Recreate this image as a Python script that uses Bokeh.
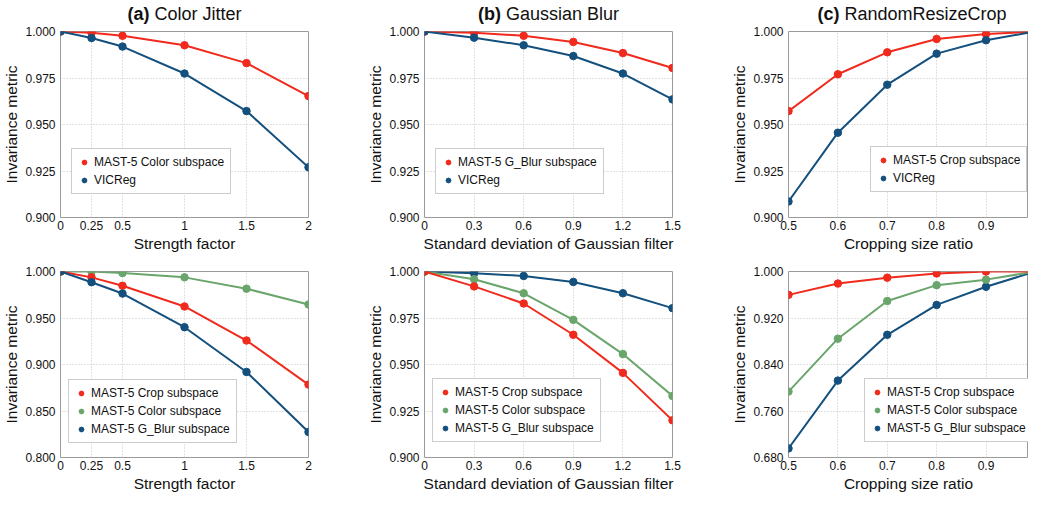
from bokeh.plotting import figure
from bokeh.layouts import column, row
from bokeh.models import FixedTicker, Legend, LegendItem, Label, Range1d
from bokeh.embed import file_html
from bokeh.resources import INLINE

# ---------------- data ----------------
titles_bold = ["(a)", "(b)", "(c)"]
titles_text = ["Color Jitter", "Gaussian Blur", "RandomResizeCrop"]
x_titles = ["Strength factor", "Standard deviation of Gaussian filter", "Cropping size ratio"]
y_title = "Invariance metric"

cj_x = [0, 0.25, 0.5, 1, 1.5, 2]
cj_x_labels = ["0", "0.25", "0.5", "1", "1.5", "2"]
gb_x = [0, 0.3, 0.6, 0.9, 1.2, 1.5]
gb_x_labels = ["0", "0.3", "0.6", "0.9", "1.2", "1.5"]
rc_x = [0.5, 0.6, 0.7, 0.8, 0.9, 1.0]
rc_x_ticks = [0.5, 0.6, 0.7, 0.8, 0.9]
rc_x_labels = ["0.5", "0.6", "0.7", "0.8", "0.9"]

y_ticks_top = [0.900, 0.925, 0.950, 0.975, 1.000]
y_labels_top = ["0.900", "0.925", "0.950", "0.975", "1.000"]
y_ticks_bl = [0.80, 0.85, 0.90, 0.95, 1.00]
y_labels_bl = ["0.800", "0.850", "0.900", "0.950", "1.000"]
y_ticks_br = [0.68, 0.76, 0.84, 0.92, 1.00]
y_labels_br = ["0.680", "0.760", "0.840", "0.920", "1.000"]

# top row
top_cj_mast_color = [1.0, 0.9993, 0.9977, 0.9926, 0.9830, 0.9653]
top_cj_vicreg = [1.0, 0.9965, 0.9919, 0.9774, 0.9572, 0.9270]
top_gb_mast_gblur = [1.0, 0.9993, 0.9977, 0.9944, 0.9884, 0.9804]
top_gb_vicreg = [1.0, 0.9967, 0.9926, 0.9868, 0.9774, 0.9635]
top_rc_mast_crop = [0.9572, 0.9770, 0.9888, 0.9960, 0.9986, 1.0]
top_rc_vicreg = [0.9086, 0.9456, 0.9714, 0.9881, 0.9953, 1.0]

# bottom row
bot_cj_crop = [1.0, 0.9937, 0.9847, 0.9624, 0.9258, 0.8784]
bot_cj_color = [1.0, 1.0, 0.9983, 0.9937, 0.9815, 0.9645]
bot_cj_gblur = [1.0, 0.9885, 0.9763, 0.9401, 0.8920, 0.8275]
bot_gb_crop = [1.0, 0.9920, 0.9828, 0.9660, 0.9455, 0.9200]
bot_gb_color = [1.0, 0.9958, 0.9883, 0.9740, 0.9556, 0.9331]
bot_gb_gblur = [1.0, 0.9991, 0.9976, 0.9944, 0.9883, 0.9803]
bot_rc_crop = [0.9598, 0.9793, 0.9894, 0.9966, 1.0, 1.0]
bot_rc_color = [0.7934, 0.8844, 0.9492, 0.9765, 0.9860, 1.0]
bot_rc_gblur = [0.6956, 0.8123, 0.8911, 0.9425, 0.9737, 1.0]

lab_mast_color = "MAST-5 Color subspace"
lab_mast_gblur = "MAST-5 G_Blur subspace"
lab_mast_crop = "MAST-5 Crop subspace"
lab_vicreg = "VICReg"

# ---------------- style ----------------
RED = "#f02a1c"
BLUE = "#14507e"
GREEN = "#6aa66c"
FONT = "Liberation Sans"
TXT = "#111111"

REG_W = {' ': 278, 'C': 722, 'o': 556, 'l': 222, 'r': 333, 'J': 500, 'i': 222, 't': 278,
         'e': 556, 'G': 778, 'a': 556, 'u': 556, 's': 500, 'n': 556, 'B': 667, 'R': 722,
         'd': 556, 'm': 833, 'z': 500, 'p': 556, 'c': 500}
BOLD_W = {'(': 333, ')': 333, 'a': 556, 'b': 611, 'c': 556}
TITLE_SIZE = 18

# layout (pixels)
TOTAL_W = 1028
L = 60          # left border of each panel
R = 56          # right border of first two panels
F12 = 248       # frame width of first two panels
F3 = TOTAL_W - 3 * L - 2 * R - 2 * F12   # frame width of last panel
RC_END = 0.986  # visible end of the cropping-ratio axis
TITLE_H = 24
TOP_B = 7
BOT_GAP = 17
BB = 37
FH = 186


def text_w(s, table, size):
    return sum(table.get(ch, 556) for ch in s) / 1000.0 * size


def make_fig(width, height, xr, yr, xticks, xlabels, yticks, ylabels, xtitle,
             border_right, border_top):
    p = figure(width=width, height=height, output_backend="svg", toolbar_location=None,
               x_range=Range1d(*xr), y_range=Range1d(*yr),
               min_border_left=L, min_border_right=border_right,
               min_border_top=border_top, min_border_bottom=BB)
    p.outline_line_color = "#9a9a9a"
    p.outline_line_width = 1
    for ax in (p.xaxis[0], p.yaxis[0]):
        ax.axis_line_color = None
        ax.major_tick_line_color = None
        ax.minor_tick_line_color = None
        ax.major_tick_out = 0
        ax.major_tick_in = 0
        ax.minor_tick_out = 0
        ax.minor_tick_in = 0
        ax.major_label_text_font = FONT
        ax.major_label_text_font_size = "12px"
        ax.major_label_text_color = TXT
        ax.axis_label_text_font = FONT
        ax.axis_label_text_font_size = "15.5px"
        ax.axis_label_text_font_style = "normal"
        ax.axis_label_text_color = TXT
        ax.axis_label_standoff = 2
    p.xaxis.major_label_standoff = 3
    p.yaxis.major_label_standoff = 5
    p.xaxis.ticker = FixedTicker(ticks=xticks)
    p.xaxis.major_label_overrides = {t: l for t, l in zip(xticks, xlabels)}
    p.yaxis.ticker = FixedTicker(ticks=yticks)
    p.yaxis.major_label_overrides = {t: l for t, l in zip(yticks, ylabels)}
    p.xaxis.axis_label = xtitle
    p.yaxis.axis_label = y_title
    p.grid.grid_line_color = "#c4c4c4"
    p.grid.grid_line_dash = "1 2"
    p.grid.grid_line_width = 1
    return p


def add_series(p, xs, ys, color):
    p.line(xs, ys, line_color=color, line_width=2)
    return p.scatter(xs, ys, size=7.5, fill_color=color, line_color=color)


def add_legend(p, items, loc):
    lg = Legend(items=[LegendItem(label=l, renderers=[r]) for l, r in items],
                location=loc, orientation="vertical")
    lg.label_text_font = FONT
    lg.label_text_font_size = "12px"
    lg.label_text_color = TXT
    lg.border_line_color = "#9a9a9a"
    lg.border_line_width = 1
    lg.background_fill_alpha = 1.0
    lg.padding = 6
    lg.spacing = 4
    lg.margin = 0
    lg.glyph_height = 14
    lg.glyph_width = 12
    lg.label_height = 14
    lg.label_standoff = 4
    p.add_layout(lg, "center")


# ---------------- title strip ----------------
pt = figure(width=TOTAL_W, height=TITLE_H, output_backend="svg", toolbar_location=None,
            x_range=Range1d(0, TOTAL_W), y_range=Range1d(TITLE_H, 0),
            x_axis_type=None, y_axis_type=None,
            min_border_left=0, min_border_right=0, min_border_top=0, min_border_bottom=0)
pt.outline_line_color = None
pt.grid.visible = False
px_per_unit3 = F3 / (RC_END - 0.5)
centers = [L + F12 / 2.0,
           (L + F12 + R) + L + F12 / 2.0,
           2 * (L + F12 + R) + L + (0.75 - 0.5) * px_per_unit3]
for i, xc in enumerate(centers):
    wa = text_w(titles_bold[i], BOLD_W, TITLE_SIZE)
    wr = text_w(titles_text[i], REG_W, TITLE_SIZE)
    gap = 5
    anchor = xc - (gap + wr - wa) / 2.0
    pt.add_layout(Label(x=anchor, y=13, text=titles_bold[i],
                        text_align="right", text_baseline="middle", text_font=FONT,
                        text_font_size=f"{TITLE_SIZE}px", text_font_style="bold",
                        text_color=TXT))
    pt.add_layout(Label(x=anchor + gap, y=13, text=titles_text[i],
                        text_align="left", text_baseline="middle", text_font=FONT,
                        text_font_size=f"{TITLE_SIZE}px", text_color=TXT))

TOP_H = TOP_B + FH + BB
BOT_H = BOT_GAP + FH + BB
W12 = L + F12 + R
W3 = L + F3

# ---------------- top row ----------------
p1 = make_fig(W12, TOP_H, (0, 2), (0.9, 1.0), cj_x, cj_x_labels,
              y_ticks_top, y_labels_top, x_titles[0], R, TOP_B)
r_a = add_series(p1, cj_x, top_cj_mast_color, RED)
r_b = add_series(p1, cj_x, top_cj_vicreg, BLUE)
add_legend(p1, [(lab_mast_color, r_a), (lab_vicreg, r_b)], (11, 23))

p2 = make_fig(W12, TOP_H, (0, 1.5), (0.9, 1.0), gb_x, gb_x_labels,
              y_ticks_top, y_labels_top, x_titles[1], R, TOP_B)
r_a = add_series(p2, gb_x, top_gb_mast_gblur, RED)
r_b = add_series(p2, gb_x, top_gb_vicreg, BLUE)
add_legend(p2, [(lab_mast_gblur, r_a), (lab_vicreg, r_b)], (11, 23))

p3 = make_fig(W3, TOP_H, (0.5, RC_END), (0.9, 1.0), rc_x_ticks, rc_x_labels,
              y_ticks_top, y_labels_top, x_titles[2], 0, TOP_B)
r_a = add_series(p3, rc_x, top_rc_mast_crop, RED)
r_b = add_series(p3, rc_x, top_rc_vicreg, BLUE)
add_legend(p3, [(lab_mast_crop, r_a), (lab_vicreg, r_b)], (82, 25))

# ---------------- bottom row ----------------
p4 = make_fig(W12, BOT_H, (0, 2), (0.8, 1.0), cj_x, cj_x_labels,
              y_ticks_bl, y_labels_bl, x_titles[0], R, BOT_GAP)
r_c = add_series(p4, cj_x, bot_cj_color, GREEN)
r_a = add_series(p4, cj_x, bot_cj_crop, RED)
r_b = add_series(p4, cj_x, bot_cj_gblur, BLUE)
add_legend(p4, [(lab_mast_crop, r_a), (lab_mast_color, r_c), (lab_mast_gblur, r_b)], (8, 14))

p5 = make_fig(W12, BOT_H, (0, 1.5), (0.9, 1.0), gb_x, gb_x_labels,
              y_ticks_top, y_labels_top, x_titles[1], R, BOT_GAP)
r_b = add_series(p5, gb_x, bot_gb_gblur, BLUE)
r_c = add_series(p5, gb_x, bot_gb_color, GREEN)
r_a = add_series(p5, gb_x, bot_gb_crop, RED)
add_legend(p5, [(lab_mast_crop, r_a), (lab_mast_color, r_c), (lab_mast_gblur, r_b)], (8, 15))

p6 = make_fig(W3, BOT_H, (0.5, RC_END), (0.68, 1.0), rc_x_ticks, rc_x_labels,
              y_ticks_br, y_labels_br, x_titles[2], 0, BOT_GAP)
r_b = add_series(p6, rc_x, bot_rc_gblur, BLUE)
r_c = add_series(p6, rc_x, bot_rc_color, GREEN)
r_a = add_series(p6, rc_x, bot_rc_crop, RED)
add_legend(p6, [(lab_mast_crop, r_a), (lab_mast_color, r_c), (lab_mast_gblur, r_b)], (76, 15))

layout = column(pt, row(p1, p2, p3), row(p4, p5, p6))

with open("out.html", "w") as f:
    f.write(file_html(layout, INLINE))
